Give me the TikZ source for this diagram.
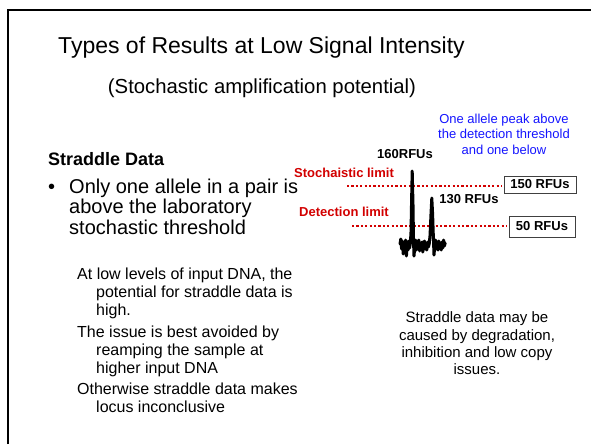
\documentclass[tikz,border=0pt]{standalone}
\usepackage{fontspec}
\setmainfont{Liberation Sans}
\definecolor{limred}{RGB}{210,0,0}
\definecolor{noteblue}{RGB}{20,20,255}
\begin{document}
\begin{tikzpicture}[x=1pt,y=-1pt,
  txt/.style={inner sep=0pt, anchor=base west},
  ctxt/.style={inner sep=0pt, anchor=base},
  para/.style={txt, font=\fontsize{16}{18}\selectfont},
  bul/.style={txt, font=\fontsize{20}{22}\selectfont},
  side/.style={ctxt, font=\fontsize{15}{17}\selectfont},
  note/.style={ctxt, text=noteblue, font=\fontsize{13}{15}\selectfont},
  limlabel/.style={ctxt, text=limred, font=\bfseries\fontsize{13}{15}\selectfont},
  rfu/.style={ctxt, font=\bfseries\fontsize{13}{15}\selectfont},
  rfubox/.style={draw=black!75, line width=0.8pt, inner sep=0pt, font=\bfseries\fontsize{13}{15}\selectfont},
  dotline/.style={draw=limred, line width=2.4pt, dash pattern=on 2.2pt off 2.2pt},
  trace/.style={draw=black, line width=3pt, line join=round, line cap=round}]
\useasboundingbox (0,0) rectangle (591,444);
% frame
\draw[line width=2pt] (7.5,444) -- (7.5,10) -- (591,10);
% title
\node[ctxt, font=\fontsize{23}{27}\selectfont] (title) at (261.5,53) {Types of Results at Low Signal Intensity};
\node[ctxt, font=\fontsize{20.3}{24}\selectfont] (subtitle) at (262,93) {(Stochastic amplification potential)};
% left column
\node[txt, font=\bfseries\fontsize{18}{20}\selectfont] (sd) at (48,165) {Straddle Data};
\node[bul] (bullet) at (48,193) {•};
\node[bul] (b1) at (69,193) {Only one allele in a pair is};
\node[bul] (b2) at (69,213.5) {above the laboratory};
\node[bul] (b3) at (69,234) {stochastic threshold};
\node[para] (p1) at (77,279) {At low levels of input DNA, the};
\node[para] (p2) at (96,297) {potential for straddle data is};
\node[para] (p3) at (96,315) {high.};
\node[para] (p4) at (77,337) {The issue is best avoided by};
\node[para] (p5) at (96,355) {reamping the sample at};
\node[para] (p6) at (96,373) {higher input DNA};
\node[para] (p7) at (77,394) {Otherwise straddle data makes};
\node[para] (p8) at (96,412) {locus inconclusive};
% right side notes
\node[note] (n1) at (504,123) {One allele peak above};
\node[note] (n2) at (504,138.5) {the detection threshold};
\node[note] (n3) at (504,154) {and one below};
\node[side] (s1) at (477,322) {Straddle data may be};
\node[side] (s2) at (477,340) {caused by degradation,};
\node[side] (s3) at (477,357) {inhibition and low copy};
\node[side] (s4) at (477,374) {issues.};
% limits
\node[limlabel] (stoch) at (344,177) {Stochaistic limit};
\node[limlabel] (detect) at (344,216) {Detection limit};
\node[rfu] (r160) at (405,158) {160RFUs};
\node[rfu] (r130) at (469,203) {130 RFUs};
\node[rfubox, minimum width=72pt, minimum height=17pt] (box150) at (540,184.5) {150 RFUs};
\node[rfubox, minimum width=66pt, minimum height=21pt] (box50) at (542,226.5) {50 RFUs};
\coordinate (sl) at (347,186);
\coordinate (dl) at (352,226);
\draw[dotline] (sl) -- ([xshift=-2pt]box150.west |- sl);
\draw[dotline] (dl) -- ([xshift=-2pt]box50.west |- dl);
% electropherogram trace
\draw[trace] (400,244) -- (400.8,239) -- (401.6,249) -- (402.4,241) -- (403.2,254) -- (404,243) -- (404.8,251) -- (405.6,240) -- (406.4,256) -- (407.2,245) -- (408,250) -- (408.8,241) -- (409.6,248) -- (410.4,243) -- (411,232) -- (411.6,200) -- (412.2,171) -- (413,205) -- (413.5,240) -- (414,256) -- (414.8,246) -- (415.6,240) -- (416.4,250) -- (417.2,243) -- (418,248) -- (418.8,240) -- (419.6,251) -- (420.4,244) -- (421.2,249) -- (422,242) -- (422.8,252) -- (423.6,245) -- (424.4,241) -- (425.2,249) -- (426,244) -- (426.8,250) -- (427.6,242) -- (428.4,247) -- (429.2,244) -- (430,236) -- (431,214) -- (431.8,198) -- (432.6,214) -- (433.4,238) -- (434,255) -- (434.8,245) -- (435.6,240) -- (436.4,249) -- (437.2,243) -- (438,250) -- (438.8,241) -- (439.6,247) -- (440.4,243) -- (441.2,250) -- (442,242) -- (442.8,248) -- (443.6,240) -- (444.4,246) -- (445.2,243);
\end{tikzpicture}
\end{document}
